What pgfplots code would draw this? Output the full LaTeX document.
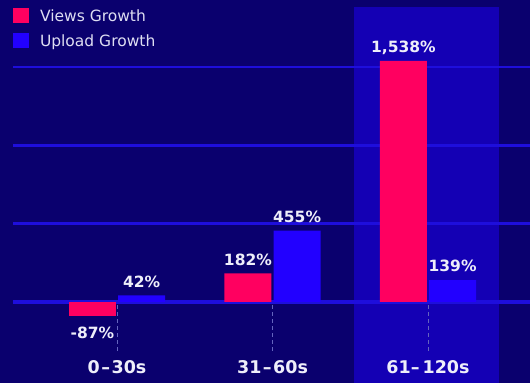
\documentclass[border=0pt]{standalone}
\usepackage{pgfplots}
\pgfplotsset{compat=1.18}
\usepackage{fontspec}
\setmainfont{DejaVu Sans}
\definecolor{bgcol}{RGB}{10,0,110}
\definecolor{bandcol}{RGB}{20,0,180}
\definecolor{gridcol}{RGB}{30,14,220}
\definecolor{pinkcol}{RGB}{255,0,96}
\definecolor{bluecol}{RGB}{34,0,255}
\definecolor{txtcol}{RGB}{238,238,250}
\definecolor{legcol}{RGB}{222,222,242}
\definecolor{dashcol}{RGB}{100,100,190}
\begin{document}
\begin{tikzpicture}
\begin{axis}[
  at={(0,0)}, anchor=south west,
  set layers, clip=false,
  scale only axis, width=517bp, height=383bp,
  xmin=-0.669, xmax=2.656, ymin=-517, ymax=1927,
  axis line style={draw=none},
  major tick length=0pt,
  no markers,
  unbounded coords=jump,
  xtick={0,1,2},
  xticklabels={0\kern1.5bp–\kern1.5bp30s, 31\kern1.5bp–\kern1.5bp60s, 61–\kern3bp120s},
  xticklabel style={anchor=center, yshift=15.5bp, font=\fontsize{17.5bp}{20bp}\selectfont\bfseries, text=txtcol},
  ytick={500,1000,1500},
  yticklabels={},
  ymajorgrids,
  grid style={draw=gridcol, line width=2.5bp},
  extra y ticks={0},
  extra y tick labels={},
  extra y tick style={grid=major, grid style={draw=gridcol, line width=4.5bp}},
  legend style={at={(0,1)}, anchor=north west, yshift=-8.3bp, draw=none, fill=none,
    inner sep=0pt, outer sep=0pt, row sep=10bp,
    nodes={inner sep=0pt, text=legcol, font=\fontsize{15.5bp}{18bp}\selectfont, text height=11.3bp, text depth=0pt},
    cells={anchor=west}},
  legend image code/.code={\fill[#1] (0bp,-7.5bp) rectangle (16bp,7.5bp); \path (27bp,0bp);},
  nodes near coords style={font=\fontsize{15.5bp}{18bp}\selectfont\bfseries, text=txtcol, inner xsep=0pt, inner ysep=8bp, text depth=0pt},
]
\begin{pgfonlayer}{axis background}
\fill[bgcol] ([xshift=-13bp]rel axis cs:0,0) rectangle (rel axis cs:1,1);
\end{pgfonlayer}
\addplot[fill=bandcol, draw=none, on layer=axis background, forget plot]
  coordinates {(1.524,-517) (1.524,1883) (2.457,1883) (2.457,-517)} -- cycle;
\addplot[draw=dashcol, line width=1bp, dash pattern=on 4bp off 3bp, forget plot]
  coordinates {(0,-20) (0,-325) (0,nan) (1,-20) (1,-325) (1,nan) (2,-20) (2,-325)};
\addplot[ybar, bar width=0.302, bar shift=-0.158, fill=pinkcol, draw=none,
  point meta=explicit symbolic, nodes near coords, nodes near coords style={anchor=south, xshift=-24.6bp}]
  coordinates {(1,182) [182\%] (2,1538) [{1,538\%}]};
\addlegendentry{Views Growth}
\addplot[ybar, bar width=0.302, bar shift=-0.158, fill=pinkcol, draw=none, forget plot,
  point meta=explicit symbolic, nodes near coords, nodes near coords style={anchor=north, xshift=-24.6bp, inner ysep=11.5bp}]
  coordinates {(0,-87) [-87\%]};
\addplot[ybar, bar width=0.302, bar shift=0.158, fill=bluecol, draw=none,
  point meta=explicit symbolic, nodes near coords, nodes near coords style={anchor=south, xshift=24.6bp}]
  coordinates {(0,42) [42\%] (1,455) [455\%] (2,139) [139\%]};
\addlegendentry{Upload Growth}
\end{axis}
\pgfresetboundingbox
\useasboundingbox (-13bp,0) rectangle (517bp,383bp);
\end{tikzpicture}
\end{document}
